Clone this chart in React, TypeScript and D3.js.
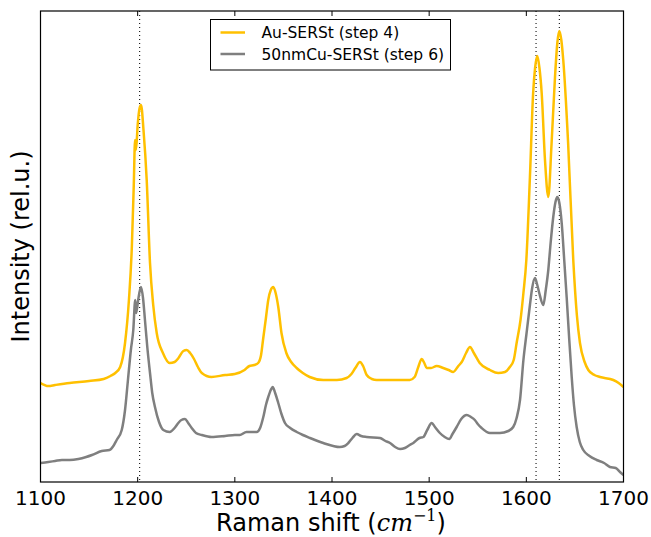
import React from "react";
import * as d3 from "d3";

// Raman shift (cm^-1) and relative intensity
const auWavenumbers = [1100,1108,1115,1130,1150,1165,1172,1177,1182,1187,1191,1194,1196,1197.3,1198.3,1200,1202,1203.5,1206,1209.3,1212.7,1216,1219.6,1226,1233,1238,1242,1247,1250.5,1254,1258,1262,1266,1276,1290,1300,1310,1315,1320,1324,1327,1329,1332,1334.4,1337,1339.6,1342,1344.7,1348,1353,1358,1363.6,1370,1377,1391,1405,1415,1420,1424,1428.8,1432,1435.7,1441,1446,1470,1480,1485,1488.8,1492.3,1495,1497.4,1502,1507.7,1514.5,1520,1524.8,1530,1533.5,1538,1542,1546,1552,1562.6,1571,1578,1583,1587,1590,1594,1597,1600,1603.7,1607,1609,1611.3,1613.5,1615.8,1619.2,1622.6,1626,1629.5,1632,1634,1636,1638,1643,1648.3,1652,1655.2,1660,1663.8,1670,1675.8,1689.5,1695,1700];
const auIntensity = [99,96,97,99,101,103,106,109,115,139,182,235,297,342,332,357,374,377,352,302,219,177,149,129,119,120,124,131,132,129,123,115,109,105,107,108,112,116,117,119,127,142,164,182,192,195,189,175,149,129,120,114,109,105,102,102,104,108,114,120,116,107,103,102,102,102,105,115,123,119,114,114,116,114,112,110,116,120,129,135,129,119,112,109,110,115,122,139,162,189,222,305,389,414,426,414,389,322,285,339,405,440,451,442,422,339,222,167,139,120,112,107,105,102,99,95];

const cuWavenumbers = [1100,1108,1115,1122,1130,1139,1147,1153,1163,1171,1175,1178.4,1183.6,1187,1190,1193,1195.5,1197.5,1198.5,1200.5,1203.4,1205.5,1207.5,1210,1212.7,1215,1217.8,1222,1226.4,1233,1238,1241.8,1245,1248.7,1252,1255.6,1260,1266,1276,1290,1300,1305,1312,1322.5,1326,1329.3,1332,1334.4,1337,1339,1341.5,1344.7,1348,1351.6,1357,1363.7,1370,1377.4,1391,1408,1413,1416.8,1421,1425.4,1430,1435.7,1449.4,1455,1459.7,1465,1470,1475,1480,1483.7,1490,1494,1498,1502.6,1506,1511,1516,1520.7,1524,1528.3,1533,1538.6,1543,1547,1550,1554,1562.6,1572.8,1581.4,1586.5,1590,1593.5,1597,1600,1603.7,1606,1608.9,1611,1613.3,1617.5,1620,1622.6,1625,1627.7,1630,1631.9,1634,1636.4,1639,1641.5,1644,1646.7,1649,1651.8,1655,1658.6,1665,1672.4,1680,1686,1692,1696.4,1700];
const cuIntensity = [19,20,21,22,22,23,25,27,31,32,36,42,52,72,102,132,152,182,169,182,195,184,162,134,109,89,75,60,52,50,54,59,62,63,59,54,49,47,45,46,47,47,50,50,54,65,77,85,92,95,89,79,68,59,54,50,47,44,39,35,36,39,44,48,46,45,44,41,39,35,33,34,37,39,44,45,52,59,55,49,45,43,48,55,63,67,65,62,58,54,49,49,51,55,64,82,122,147,177,194,204,198,189,177,192,212,239,265,280,285,279,259,222,185,145,105,77,55,40,32,26,22,19,15,14,10,7];

const seriesNames = ["Au-SERSt (step 4)", "50nmCu-SERSt (step 6)"];
const seriesColors = ["#FFC000", "#7F7F7F"];
const xTicks = [1100, 1200, 1300, 1400, 1500, 1600, 1700];
const markerLines = [1202, 1610, 1634];

const W = 651, H = 537;
const M = { left: 40.5, right: 623.5, top: 11, bottom: 482 };

export default function App() {
  const x = d3.scaleLinear().domain([1100, 1700]).range([M.left, M.right]);
  const y = d3.scaleLinear().domain([0, 471]).range([M.bottom, M.top]);
  const line = d3
    .line<[number, number]>()
    .x((d) => x(d[0]))
    .y((d) => y(d[1]))
    .curve(d3.curveMonotoneX);
  const au = auWavenumbers.map((w, i) => [w, auIntensity[i]] as [number, number]);
  const cu = cuWavenumbers.map((w, i) => [w, cuIntensity[i]] as [number, number]);
  const font = "DejaVu Sans, sans-serif";

  return (
    <svg
      width={W}
      height={H}
      style={{ position: "absolute", left: 0, top: 0, background: "#fff" }}
      fontFamily={font}
    >
      <defs>
        <clipPath id="plotclip">
          <rect x={M.left} y={M.top} width={M.right - M.left} height={M.bottom - M.top} />
        </clipPath>
      </defs>
      <rect x={0} y={0} width={W} height={H} fill="#fff" />
      <g clipPath="url(#plotclip)">
        {markerLines.map((m) => (
          <line
            key={m}
            x1={x(m)}
            x2={x(m)}
            y1={M.top}
            y2={M.bottom}
            stroke="#222"
            strokeWidth={1.2}
            strokeDasharray="1,3"
          />
        ))}
        <path d={line(au) || ""} fill="none" stroke={seriesColors[0]} strokeWidth={2.5} strokeLinejoin="round" />
        <path d={line(cu) || ""} fill="none" stroke={seriesColors[1]} strokeWidth={2.5} strokeLinejoin="round" />
      </g>
      {xTicks.map((t) => (
        <g key={t}>
          <line x1={x(t)} x2={x(t)} y1={M.bottom} y2={M.bottom - 5} stroke="#000" strokeWidth={1} />
          <line x1={x(t)} x2={x(t)} y1={M.top} y2={M.top + 5} stroke="#000" strokeWidth={1} />
          <text x={x(t)} y={505} textAnchor="middle" fontSize={20} fill="#000">
            {t}
          </text>
        </g>
      ))}
      <rect
        x={M.left}
        y={M.top}
        width={M.right - M.left}
        height={M.bottom - M.top}
        fill="none"
        stroke="#000"
        strokeWidth={1.2}
      />
      <text x={331} y={531} textAnchor="middle" fontSize={24} fill="#000">
        <tspan>Raman shift (</tspan>
        <tspan fontFamily="DejaVu Serif, serif" fontStyle="italic">cm</tspan>
        <tspan fontFamily="DejaVu Serif, serif" fontSize={16} dy={-10}>−1</tspan>
        <tspan dy={10}>)</tspan>
      </text>
      <text
        transform={`translate(${29},${(M.top + M.bottom) / 2}) rotate(-90)`}
        textAnchor="middle"
        fontSize={24}
        fill="#000"
      >
        Intensity (rel.u.)
      </text>
      <g>
        <rect x={210.5} y={19.5} width={240} height={50.5} fill="#fff" stroke="#000" strokeWidth={1} />
        {seriesNames.map((n, i) => (
          <g key={n}>
            <line x1={220.5} x2={245} y1={32.5 + i * 21.5} y2={32.5 + i * 21.5} stroke={seriesColors[i]} strokeWidth={2.5} />
            <text x={261.5} y={38 + i * 21.5} fontSize={15.5} fill="#000">
              {n}
            </text>
          </g>
        ))}
      </g>
    </svg>
  );
}
